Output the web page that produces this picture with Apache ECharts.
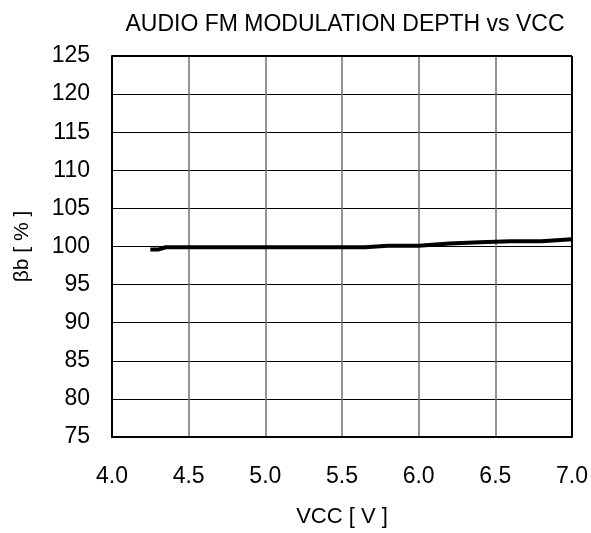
<!DOCTYPE html>
<html>
<head>
<meta charset="utf-8">
<script src="https://cdn.jsdelivr.net/npm/echarts@6/dist/echarts.min.js"></script>
<style>
  html, body { margin: 0; padding: 0; background: #fff; }
  #chart { width: 591px; height: 533px; }
</style>
</head>
<body>
<div id="chart"></div>
<script>
// VCC [V] vs modulation depth [%]
const vcc = [4.25, 4.3, 4.35, 4.5, 5.0, 5.5, 5.65, 5.8, 6.0, 6.2, 6.4, 6.6, 6.8, 7.0];
const depth = [99.6, 99.6, 99.9, 99.9, 99.9, 99.9, 99.9, 100.1, 100.1, 100.4, 100.55, 100.7, 100.7, 100.95];

const xTicks = [4.0, 4.5, 5.0, 5.5, 6.0, 6.5, 7.0];
const yTicks = [75, 80, 85, 90, 95, 100, 105, 110, 115, 120, 125];

const font = "Liberation Sans, Arial, sans-serif";

const chart = echarts.init(document.getElementById("chart"));

chart.setOption({
  animation: false,
  title: {
    text: "AUDIO FM MODULATION DEPTH vs VCC",
    left: 340,
    textAlign: "center",
    top: 8,
    textStyle: { fontFamily: font, fontSize: 23, fontWeight: "normal", color: "#000" },
  },
  grid: { left: 112, right: 19, top: 56, bottom: 95, containLabel: false },
  xAxis: {
    type: "value",
    min: xTicks[0],
    max: xTicks[xTicks.length - 1],
    interval: 0.5,
    name: "VCC [ V ]",
    nameLocation: "middle",
    nameGap: 69,
    nameTextStyle: { fontFamily: font, fontSize: 22, color: "#000" },
    axisLine: { show: true, lineStyle: { color: "#000", width: 2 } },
    axisTick: { show: false },
    axisLabel: {
      margin: 28,
      fontFamily: font,
      fontSize: 23,
      color: "#000",
      formatter: (v) => v.toFixed(1),
    },
    splitLine: { show: true, lineStyle: { color: "#707070", width: 1.5 } },
  },
  yAxis: {
    type: "value",
    min: yTicks[0],
    max: yTicks[yTicks.length - 1],
    interval: 5,
    name: "βb [ % ]",
    nameLocation: "middle",
    nameGap: 79,
    nameTextStyle: { fontFamily: font, fontSize: 21, color: "#000" },
    axisLine: { show: true, lineStyle: { color: "#000", width: 2 } },
    axisTick: { show: false },
    axisLabel: { margin: 22, fontFamily: font, fontSize: 23, color: "#000" },
    splitLine: { show: true, lineStyle: { color: "#000", width: 1 } },
  },
  series: [
    {
      type: "line",
      data: vcc.map((v, i) => [v, depth[i]]),
      showSymbol: false,
      smooth: false,
      lineStyle: { color: "#000", width: 4 },
    },
    {
      // frame on the top and right edges
      type: "line",
      data: [],
      markLine: {
        silent: true,
        symbol: "none",
        label: { show: false },
        lineStyle: { color: "#000", width: 2, type: "solid" },
        data: [{ yAxis: yTicks[yTicks.length - 1] }, { xAxis: xTicks[xTicks.length - 1] }],
      },
    },
  ],
});
</script>
</body>
</html>
